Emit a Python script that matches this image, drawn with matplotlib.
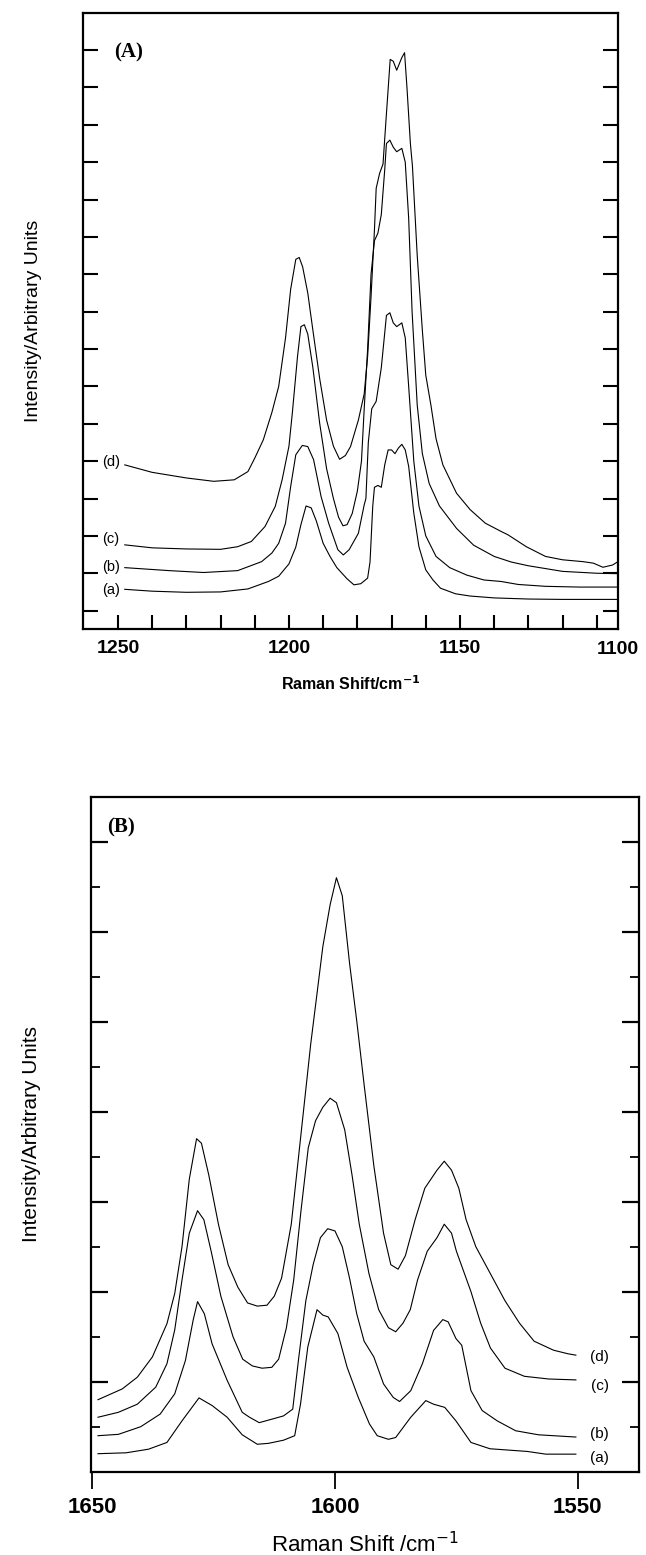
import matplotlib
matplotlib.use("Agg")
import matplotlib.pyplot as plt
import numpy as np

# ---------------- Panel A data (Raman shift cm-1, intensity arb.) ----------------
a_x = [1248, 1240, 1230, 1220, 1212, 1206, 1203, 1200, 1198, 1196.5, 1195, 1193.5, 1192, 1190, 1188, 1186,
       1183, 1181, 1179, 1177, 1176.3, 1175.5, 1175, 1174, 1173, 1172, 1171, 1170, 1169, 1168, 1167, 1166,
       1165, 1163.5, 1162, 1160, 1157.9, 1155.7, 1151.3, 1147, 1140, 1130, 1120, 1104]
a_y = [0.57, 0.52, 0.49, 0.50, 0.58, 0.78, 0.92, 1.25, 1.7, 2.3, 2.8, 2.75, 2.4, 1.8, 1.45, 1.15,
       0.85, 0.69, 0.72, 0.87, 1.3, 2.8, 3.3, 3.35, 3.3, 3.9, 4.3, 4.3, 4.2, 4.35, 4.45, 4.3,
       3.86, 2.61, 1.71, 1.09, 0.82, 0.6, 0.45, 0.39, 0.34, 0.31, 0.30, 0.30]

b_x = [1248, 1235, 1225, 1215, 1208, 1205, 1203, 1201, 1199.5, 1198, 1196.1, 1194.5, 1192.8, 1190.6, 1188.4,
       1185.7, 1184.1, 1182.4, 1179.7, 1178, 1177.5, 1176.8, 1175.8, 1174.5, 1173, 1171.5, 1170.5, 1169.5,
       1168.5, 1167, 1166, 1165, 1163.5, 1162, 1160, 1157, 1153, 1148, 1143, 1138, 1133, 1125, 1115, 1104]
b_y = [1.15, 1.07, 1.02, 1.07, 1.31, 1.54, 1.80, 2.34, 3.32, 4.17, 4.42, 4.39, 4.04, 3.05, 2.34,
       1.63, 1.49, 1.63, 2.07, 2.83, 3.0, 4.5, 5.4, 5.6, 6.5, 7.9, 7.97, 7.7,
       7.6, 7.7, 7.3, 6.0, 4.0, 2.8, 2.0, 1.45, 1.15, 0.95, 0.82, 0.78, 0.70, 0.65, 0.63, 0.63]

c_x = [1248, 1240, 1230, 1220, 1215, 1211, 1207, 1204, 1202, 1200, 1199, 1197.5, 1196.5, 1195.5, 1194.5,
       1193, 1191, 1189, 1187, 1185.5, 1184.2, 1183, 1181.5, 1180, 1178.8, 1178, 1177, 1176, 1175, 1174,
       1173, 1172, 1171.5, 1170.5, 1169.5, 1168.5, 1167, 1166, 1165, 1164, 1162.5, 1161, 1159, 1156, 1151,
       1146, 1140, 1135, 1130, 1120, 1110, 1104]
c_y = [1.76, 1.68, 1.65, 1.64, 1.71, 1.85, 2.25, 2.79, 3.5, 4.4, 5.3, 6.8, 7.6, 7.65, 7.4,
       6.5, 5.0, 3.8, 3.0, 2.5, 2.27, 2.3, 2.6, 3.2, 4.0, 5.4, 7.0, 9.0, 9.9, 10.1,
       10.6, 11.8, 12.5, 12.59, 12.4, 12.28, 12.37, 12.0, 10.5, 8.0, 5.5, 4.2, 3.4, 2.8, 2.2,
       1.75, 1.45, 1.3, 1.2, 1.05, 1.0, 0.99]

d_x = [1248, 1240, 1230, 1222, 1216, 1212, 1210, 1207.5, 1205, 1203, 1201, 1199.5, 1198, 1197, 1196,
       1194.5, 1193, 1191, 1189, 1187, 1185.2, 1183.5, 1182, 1179.7, 1178, 1177, 1176, 1175, 1174.5,
       1173.5, 1172.5, 1171.5, 1170.4, 1169.5, 1168.5, 1167, 1166.2, 1165.5, 1164.5, 1163.9, 1162.5, 1161,
       1160, 1158.5, 1157, 1155, 1151, 1147, 1142.6, 1138, 1136, 1130.6, 1125, 1120, 1114, 1111, 1108.2,
       1105.4, 1103.8]
d_y = [3.90, 3.70, 3.55, 3.46, 3.50, 3.72, 4.08, 4.57, 5.3, 6.0, 7.3, 8.6, 9.4, 9.45, 9.2,
       8.5, 7.5, 6.2, 5.1, 4.4, 4.05, 4.15, 4.39, 5.1, 5.8, 6.8, 8.4, 10.2, 11.3,
       11.7, 11.95, 13.3, 14.75, 14.7, 14.46, 14.8, 14.93, 14.0, 12.5, 11.9, 9.5, 7.5,
       6.3, 5.5, 4.6, 3.9, 3.14, 2.70, 2.34, 2.12, 2.03, 1.71, 1.45, 1.36, 1.31, 1.27, 1.16,
       1.22, 1.31]

# ---------------- Panel B data ----------------
Ba_x = [1648.8, 1643, 1638.4, 1634.6, 1631.5, 1628, 1625.3, 1622.2, 1619.1, 1616, 1613.7, 1610.6, 1608.3,
        1607.1, 1605.6, 1603.7, 1602.5, 1601.4, 1599.4, 1597.5, 1595.2, 1592.9, 1591.3, 1589, 1587.5, 1584.4,
        1581.3, 1579.7, 1577.4, 1575.1, 1572, 1568.1, 1560.4, 1556.6, 1550.4]
Ba_y = [0.40, 0.42, 0.50, 0.65, 1.13, 1.64, 1.47, 1.21, 0.82, 0.61, 0.63, 0.70, 0.80,
        1.50, 2.77, 3.60, 3.48, 3.44, 3.07, 2.32, 1.65, 1.06, 0.80, 0.72, 0.76, 1.21,
        1.58, 1.50, 1.43, 1.13, 0.65, 0.51, 0.45, 0.39, 0.39]

Bb_x = [1648.8, 1644.6, 1640, 1636, 1633, 1630.8, 1629.2, 1628.3, 1626.9, 1625.3, 1622.2, 1619.1, 1617.6,
        1615.6, 1612.9, 1610.6, 1608.7, 1607.5, 1606, 1604.5, 1603, 1601.5, 1600, 1598.5, 1597, 1595.5, 1594,
        1592, 1590, 1588, 1586.7, 1584.4, 1582, 1579.7, 1577.8, 1576.7, 1575.1, 1573.9, 1572, 1569.7, 1566.6,
        1562.8, 1558.1, 1550.4]
Bb_y = [0.80, 0.83, 1.0, 1.28, 1.73, 2.47, 3.37, 3.78, 3.51, 2.84, 2.03, 1.32, 1.21,
        1.09, 1.17, 1.24, 1.39, 2.5, 3.8, 4.6, 5.2, 5.4, 5.35, 5.0, 4.3, 3.5, 2.9,
        2.55, 1.95, 1.65, 1.56, 1.80, 2.40, 3.14, 3.38, 3.33, 2.96, 2.81, 1.80, 1.36, 1.13,
        0.91, 0.82, 0.77]

Bc_x = [1648.8, 1644.6, 1640.7, 1636.9, 1634.6, 1633, 1631.5, 1630, 1628.3, 1627, 1625.5, 1623.5, 1621,
        1619, 1617, 1615, 1613, 1611.6, 1610, 1608.5, 1607, 1605.5, 1604, 1602.5, 1601, 1599.7, 1598,
        1596.5, 1595, 1593, 1591, 1589, 1587.5, 1586, 1584.5, 1583, 1581, 1579, 1577.5, 1576, 1575, 1574,
        1572, 1570, 1568, 1565, 1561, 1556, 1550.4]
Bc_y = [1.21, 1.32, 1.50, 1.88, 2.40, 3.15, 4.26, 5.3, 5.8, 5.6, 4.9, 3.9, 3.0,
        2.5, 2.35, 2.3, 2.32, 2.5, 3.2, 4.26, 5.8, 7.2, 7.8, 8.1, 8.3, 8.2, 7.6,
        6.6, 5.5, 4.4, 3.6, 3.2, 3.11, 3.3, 3.6, 4.26, 4.9, 5.2, 5.5, 5.3, 4.9, 4.6,
        4.0, 3.3, 2.75, 2.3, 2.12, 2.06, 2.04]

Bd_x = [1648.8, 1643.8, 1640.7, 1637.6, 1634.6, 1633, 1631.5, 1630, 1628.5, 1627.5, 1626, 1624, 1622,
        1620, 1618, 1616, 1614, 1612.5, 1611, 1609, 1607, 1605, 1603.5, 1602.5, 1601, 1599.7, 1598.5,
        1597, 1595.5, 1594, 1592, 1590, 1588.5, 1587, 1585.5, 1583.5, 1581.5, 1579, 1577.5, 1576, 1574.5,
        1573, 1571, 1569, 1567, 1565, 1562, 1559, 1555, 1552, 1550.4]
Bd_y = [1.60, 1.84, 2.10, 2.55, 3.29, 3.96, 5.0, 6.5, 7.4, 7.3, 6.6, 5.5, 4.6,
        4.1, 3.75, 3.68, 3.7, 3.9, 4.3, 5.5, 7.5, 9.5, 10.8, 11.67, 12.6, 13.2, 12.8,
        11.3, 10.0, 8.6, 6.8, 5.3, 4.6, 4.5, 4.8, 5.6, 6.3, 6.7, 6.9, 6.7, 6.3,
        5.6, 5.0, 4.6, 4.2, 3.8, 3.3, 2.9, 2.7, 2.62, 2.59]

labels = ["(a)", "(b)", "(c)", "(d)"]
A_label_y = [0.55, 1.18, 1.91, 3.99]
B_label_y = [0.30, 0.84, 1.90, 2.55]

SANS = ["Liberation Sans", "DejaVu Sans"]
SERIF = ["Liberation Serif", "DejaVu Serif"]

W, H = 646, 1555
fig = plt.figure(figsize=(W / 100, H / 100), dpi=100)

def ax_rect(l, t, r, b):
    return [l / W, 1 - b / H, (r - l) / W, (b - t) / H]

lw_curve = 0.8
spine_lw = 1.6

# ---------------- Panel A ----------------
axA = fig.add_axes(ax_rect(82.7, 12.7, 618, 629.3))
for xs, ys in [(a_x, a_y), (b_x, b_y), (c_x, c_y), (d_x, d_y)]:
    axA.plot(xs, ys, color="black", lw=lw_curve)
axA.set_xlim(1260.3, 1103.8)
axA.set_ylim(-0.5, 16.0)
axA.set_xticks(np.arange(1250, 1105, -10))
axA.set_xticklabels([str(t) if t % 50 == 0 else "" for t in range(1250, 1105, -10)])
axA.set_yticks(np.arange(0, 16, 1))
axA.set_yticklabels([])
axA.tick_params(axis="x", direction="in", length=10, width=1.5, top=False, pad=8,
                labelsize=14)
axA.tick_params(axis="y", direction="in", length=10.5, width=1.5, left=True, right=True)
for lab in axA.get_xticklabels():
    lab.set_fontfamily(SANS)
    lab.set_fontweight("bold")
axA.text(1.0, -0.0185, "1100", transform=axA.transAxes, ha="center", va="top",
         fontsize=14, fontweight="bold", family=SANS)
for s in axA.spines.values():
    s.set_linewidth(spine_lw)
axA.set_xlabel("Raman Shift/cm$^{\\mathbf{-1}}$", fontsize=11.5, fontweight="bold",
               family=SANS, labelpad=12)
axA.set_ylabel("Intensity/Arbitrary Units", fontsize=14, family=SANS, labelpad=26)
axA.text(0.058, 0.935, "(A)", transform=axA.transAxes, fontsize=15, fontweight="bold",
         family=SERIF, va="center", ha="left")
for lab, yv in zip(labels, A_label_y):
    axA.text(1249.5, yv, lab, fontsize=10.5, family=SANS, ha="right", va="center")

# ---------------- Panel B ----------------
axB = fig.add_axes(ax_rect(90.7, 796.7, 639, 1471.7))
for xs, ys in [(Ba_x, Ba_y), (Bb_x, Bb_y), (Bc_x, Bc_y), (Bd_x, Bd_y)]:
    axB.plot(xs, ys, color="black", lw=lw_curve)
axB.set_xlim(1650.3, 1537.4)
axB.set_ylim(0, 15)
axB.set_xticks([1650, 1600, 1550])
axB.set_xticklabels(["1650", "1600", "1550"])
axB.set_yticks(np.arange(2, 15, 2))
axB.set_yticks(np.arange(1, 15, 2), minor=True)
axB.set_yticklabels([])
axB.tick_params(axis="x", direction="out", length=12, width=1.3, top=False, pad=6,
                labelsize=16)
axB.tick_params(axis="y", which="major", direction="in", length=12, width=1.6, left=True, right=True)
axB.tick_params(axis="y", which="minor", direction="in", length=6.5, width=1.3, left=True, right=True)
for lab in axB.get_xticklabels():
    lab.set_fontfamily(SANS)
    lab.set_fontweight("bold")
for s in axB.spines.values():
    s.set_linewidth(spine_lw)
axB.set_xlabel("Raman Shift /cm$^{-1}$", fontsize=16, family=SANS, labelpad=10)
axB.set_ylabel("Intensity/Arbitrary Units", fontsize=15, family=SANS, labelpad=32)
axB.text(0.03, 0.955, "(B)", transform=axB.transAxes, fontsize=15, fontweight="bold",
         family=SERIF, va="center", ha="left")
for lab, yv in zip(labels, B_label_y):
    axB.text(1545.5, yv, lab, fontsize=11, family=SANS, ha="center", va="center")

fig.savefig("out.png", dpi=100)
